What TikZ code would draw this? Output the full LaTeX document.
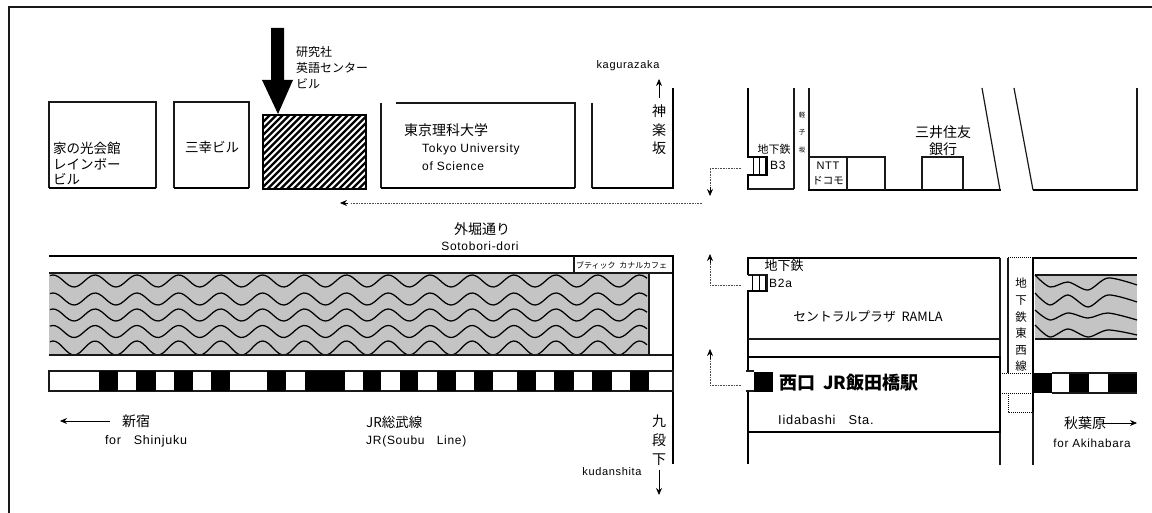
\documentclass[tikz,border=0pt]{standalone}
\usepackage{fontspec}
\setmainfont[LetterSpace=6]{Liberation Sans}
\newfontfamily\cjk{Noto Sans CJK JP}
\usetikzlibrary{arrows.meta}
\definecolor{watergray}{gray}{0.77}
\begin{document}
\begin{tikzpicture}
[x=1pt,y=-1pt,
wall/.style={line width=1.2pt,black!90},
thickwall/.style={line width=2.8pt,black},
walkarrow/.style={densely dotted,line width=0.6pt,black!70},
tiparrow/.style={line width=0.7pt,-{Stealth[length=7pt,width=6pt]}},
wave/.style={line width=1.25pt,black},
jp/.style={font=\cjk\fontsize{12}{16}\selectfont,align=left,inner sep=0pt},
jpbig/.style={font=\cjk\fontsize{14}{17}\selectfont,align=center,inner sep=0pt},
jpvert/.style={font=\cjk\fontsize{14}{18.5}\selectfont,align=center,inner sep=0pt},
en/.style={font=\fontsize{12}{17.5}\selectfont,align=left,inner sep=0pt}]
\useasboundingbox (0,0) rectangle (1152,513);
\draw[wall] (1152,7) -- (9,7) -- (9,513);
% buildings along the north side
\draw[wall] (49,188) -- (49,102) -- (156,102) -- (156,188);
\draw[line width=1.6pt] (49,188) -- (156,188);
\draw[wall] (174,188) -- (174,102) -- (249,102) -- (249,188);
\draw[line width=1.6pt] (174,188) -- (249,188);
\begin{scope}
\clip (263,115) rectangle (366,189);
\foreach \hx in {0,6.5,...,182}
  \draw[line width=2.4pt] (\hx+190,195) -- (\hx+280,105);
\end{scope}
\draw[line width=1.6pt] (263,115) rectangle (366,189);
\fill (271,28) -- (284,28) -- (284,80) -- (293,80) -- (278,114) -- (262,80) -- (271,80) -- cycle;
\node[jp,anchor=west] (kenkyusha) at (296,68) {研究社\\英語センター\\ビル};
\node[jp,font=\cjk\fontsize{13.5}{15.5}\selectfont,anchor=west] (rainbow) at (53,163.5) {家の光会館\\レインボー\\ビル};
\node[jp,font=\cjk\fontsize{13.5}{16}\selectfont] (sanko) at (212,147) {三幸ビル};
\draw[wall] (381,103) -- (381,188);
\draw[wall] (396,103) -- (575,103) -- (575,188);
\draw[line width=1.6pt] (381,188) -- (575,188);
\node[jpbig] (rikadai) at (446,130) {東京理科大学};
\node[en,anchor=west] (tus) at (422,157) {Tokyo University\\of Science};
\draw[wall] (592,103) -- (592,188);
\draw[line width=1.6pt] (592,188) -- (673,188);
\draw[thickwall] (673,88) -- (673,189);
\node[jpvert] (kagurazakajp) at (659,130) {神\\楽\\坂};
\node[en,font=\fontsize{11}{12}\selectfont] (kagurazakaen) at (628,66) {kagurazaka};
\draw[tiparrow] (659,98) -- (659,79);
\draw[thickwall] (748,88) -- (748,157) (748,175) -- (748,190);
\draw[wall] (748,189) -- (794,189);
\draw[wall] (794,88) -- (794,189);
\draw[line width=1.6pt] (747,157) -- (767,157) -- (767,175) -- (747,175);
\foreach \sx in {753,759,765} \draw[line width=0.8pt] (\sx,157) -- (\sx,175);
\node[jp,font=\cjk\fontsize{11}{12}\selectfont] (chikatetsua) at (774,149) {地下鉄};
\node[en,font=\fontsize{12}{12}\selectfont,anchor=west] (bthree) at (770,165) {B3};
\node[jp,font=\cjk\fontsize{6.5}{17.5}\selectfont,align=center] (karuko) at (802,132.5) {軽\\子\\坂};
\draw[wall] (809,88) -- (809,190);
\draw[line width=1.6pt] (808,190) -- (1001,190);
\draw[wall] (809,157) -- (885,157) -- (885,190) (847,157) -- (847,190);
\draw[wall] (922,190) -- (922,157) -- (963,157) -- (963,190);
\node[en,font=\fontsize{11}{12}\selectfont] (ntt) at (828,166) {NTT};
\node[jp,font=\cjk\fontsize{10.5}{12}\selectfont] (docomo) at (828,181) {ドコモ};
\node[jpbig] (mitsui) at (943,140.5) {三井住友\\銀行};
\draw[wall] (982,88) -- (1000,190);
\draw[wall] (1014,88) -- (1033,190);
\draw[line width=1.6pt] (1033,190) -- (1138,190);
\draw[wall] (1137,88) -- (1137,190);
% walking routes
\draw[walkarrow] (702,203) -- (350,203);
\draw[tiparrow] (348,203) -- (340,203);
\draw[walkarrow] (741,168) -- (710,168) -- (710,188);
\draw[tiparrow] (710,187) -- (710,196);
\draw[walkarrow] (741,285) -- (710,285) -- (710,262);
\draw[tiparrow] (710,263) -- (710,254);
\draw[walkarrow] (741,385) -- (710,385) -- (710,358);
\draw[tiparrow] (710,359) -- (710,349);
% road and moat
\node[jpbig] (sotoborijp) at (482,229) {外堀通り};
\node[en] (sotoborien) at (480,246) {Sotobori-dori};
\draw[line width=1.8pt] (49,256) -- (674,256);
\fill[watergray] (49,273) rectangle (649,355);
\begin{scope}
\clip (49,273) rectangle (649,355);
\foreach \wy/\wa in {281/6,299/6,315/6,331.5/6,348/7}
  \draw[wave] plot[domain=50:647,samples=220] (\x,{\wy-\wa*cos((\x-95)*8.592)});
\end{scope}
\draw[wall] (49,273) -- (673,273) (49,355) -- (673,355) (649,273) -- (649,355) (574,256) -- (574,273);
\node[jp,font=\cjk\fontsize{8}{10}\selectfont,anchor=west] (boutique) at (576,265) {ブティック\ \ カナルカフェ};
\draw[thickwall] (673,255) -- (673,464);
% railway
\draw[wall] (49,371) rectangle (673,391);
\foreach \ra/\rb in {99/118,136/156,174/193,211/230,267/286,305/345,363/381,400/418,437/456,474/493,517/536,554/574,592/612,630/649}
  \fill (\ra,371) rectangle (\rb,391);
\foreach \ra/\rb in {1033/1052,1069/1089,1108/1137}
  \fill (\ra,373) rectangle (\rb,393);
\draw[wall] (1052,373) -- (1137,373) (1052,393) -- (1137,393);
\draw[tiparrow] (110,421) -- (60,421);
\node[jpbig] (shinjukujp) at (136,421) {新宿};
\node[en,font=\fontsize{12.5}{14}\selectfont] (shinjukuen) at (146,441) {for\ \ \ Shinjuku};
\node[jp,font=\cjk\fontsize{13.5}{14}\selectfont,anchor=west] (soubujp) at (366,422) {JR総武線};
\node[en,anchor=west] (soubuen) at (366,441) {JR(Soubu\ \ \ Line)};
\node[jpvert,font=\cjk\fontsize{14}{19}\selectfont] (kudanjp) at (659,440) {九\\段\\下};
\node[en,font=\fontsize{11}{12}\selectfont] (kudanen) at (612,472) {kudanshita};
\draw[tiparrow] (659,470) -- (659,495);
% station block
\draw[thickwall] (748,257) -- (748,275) (748,291) -- (748,371) (748,391) -- (748,464);
\draw[line width=1.8pt] (747,258) -- (1000,258);
\draw[wall] (1000,258) -- (1000,357) (1000,432) -- (1000,465);
\draw[wall] (748,275) -- (767,275) -- (767,291);
\draw[line width=1.8pt] (747,291) -- (768,291);
\foreach \sx in {752,759,765} \draw[line width=0.8pt] (\sx,275) -- (\sx,291);
\node[jp,font=\cjk\fontsize{13}{14}\selectfont] (chikatetsub) at (784,266) {地下鉄};
\node[en,anchor=west] (btwoa) at (769,283) {B2a};
\node[jp,font=\cjk\fontsize{12.8}{14}\selectfont] (ramla) at (868,317) {セントラルプラザ\ \ RAMLA};
\draw[wall] (748,339) -- (1000,339);
\draw[line width=1.8pt] (748,357) -- (1000,357) -- (1000,432) -- (748,432);
\draw[wall] (746,371) -- (754,371) (746,391) -- (754,391);
\fill (754,372) rectangle (773,392);
\node[jp,font=\cjk\bfseries\fontsize{18}{20}\selectfont,anchor=west] (nishiguchi) at (779,383) {西口\ \ JR飯田橋駅};
\node[en,font=\fontsize{12.8}{14}\selectfont,anchor=west] (iidabashi) at (778,420) {Iidabashi\ \ \ Sta.};
% tozai line
\draw[wall] (1008,258) -- (1008,373);
\draw[densely dotted,line width=1pt] (1008,258) -- (1033,258) (1000,373) -- (1033,373) (1000,393) -- (1033,393);
\draw[densely dotted,line width=1pt] (1008,393) -- (1008,412) -- (1033,412);
\draw[thickwall] (1033,258) -- (1033,412);
\draw[wall] (1033,412) -- (1033,465);
\draw[line width=1.8pt] (1033,258) -- (1137,258);
\fill[watergray] (1035,275) rectangle (1137,339);
\draw[wall] (1035,275) -- (1137,275) (1035,339) -- (1137,339);
\foreach \ya/\yb/\yc/\yd/\ye/\yf in {275/287/282/290/278/285,293/305/295/307/295/302,310/320/313/318/313/320,325/337/329/337/330/335}
  \draw[wave] plot[smooth,tension=0.5] coordinates {(1035,\ya) (1050,\yb) (1068,\yc) (1088,\yd) (1108,\ye) (1137,\yf)};
\node[jp,font=\cjk\fontsize{11.5}{16.6}\selectfont,align=center] (tozai) at (1021,325) {地\\下\\鉄\\東\\西\\線};
\node[jpbig] (akihabarajp) at (1085,423) {秋葉原};
\draw[tiparrow] (1102,423) -- (1137,423);
\node[en,font=\fontsize{11.7}{12}\selectfont] (akihabaraen) at (1092,443) {for Akihabara};
\end{tikzpicture}
\end{document}
